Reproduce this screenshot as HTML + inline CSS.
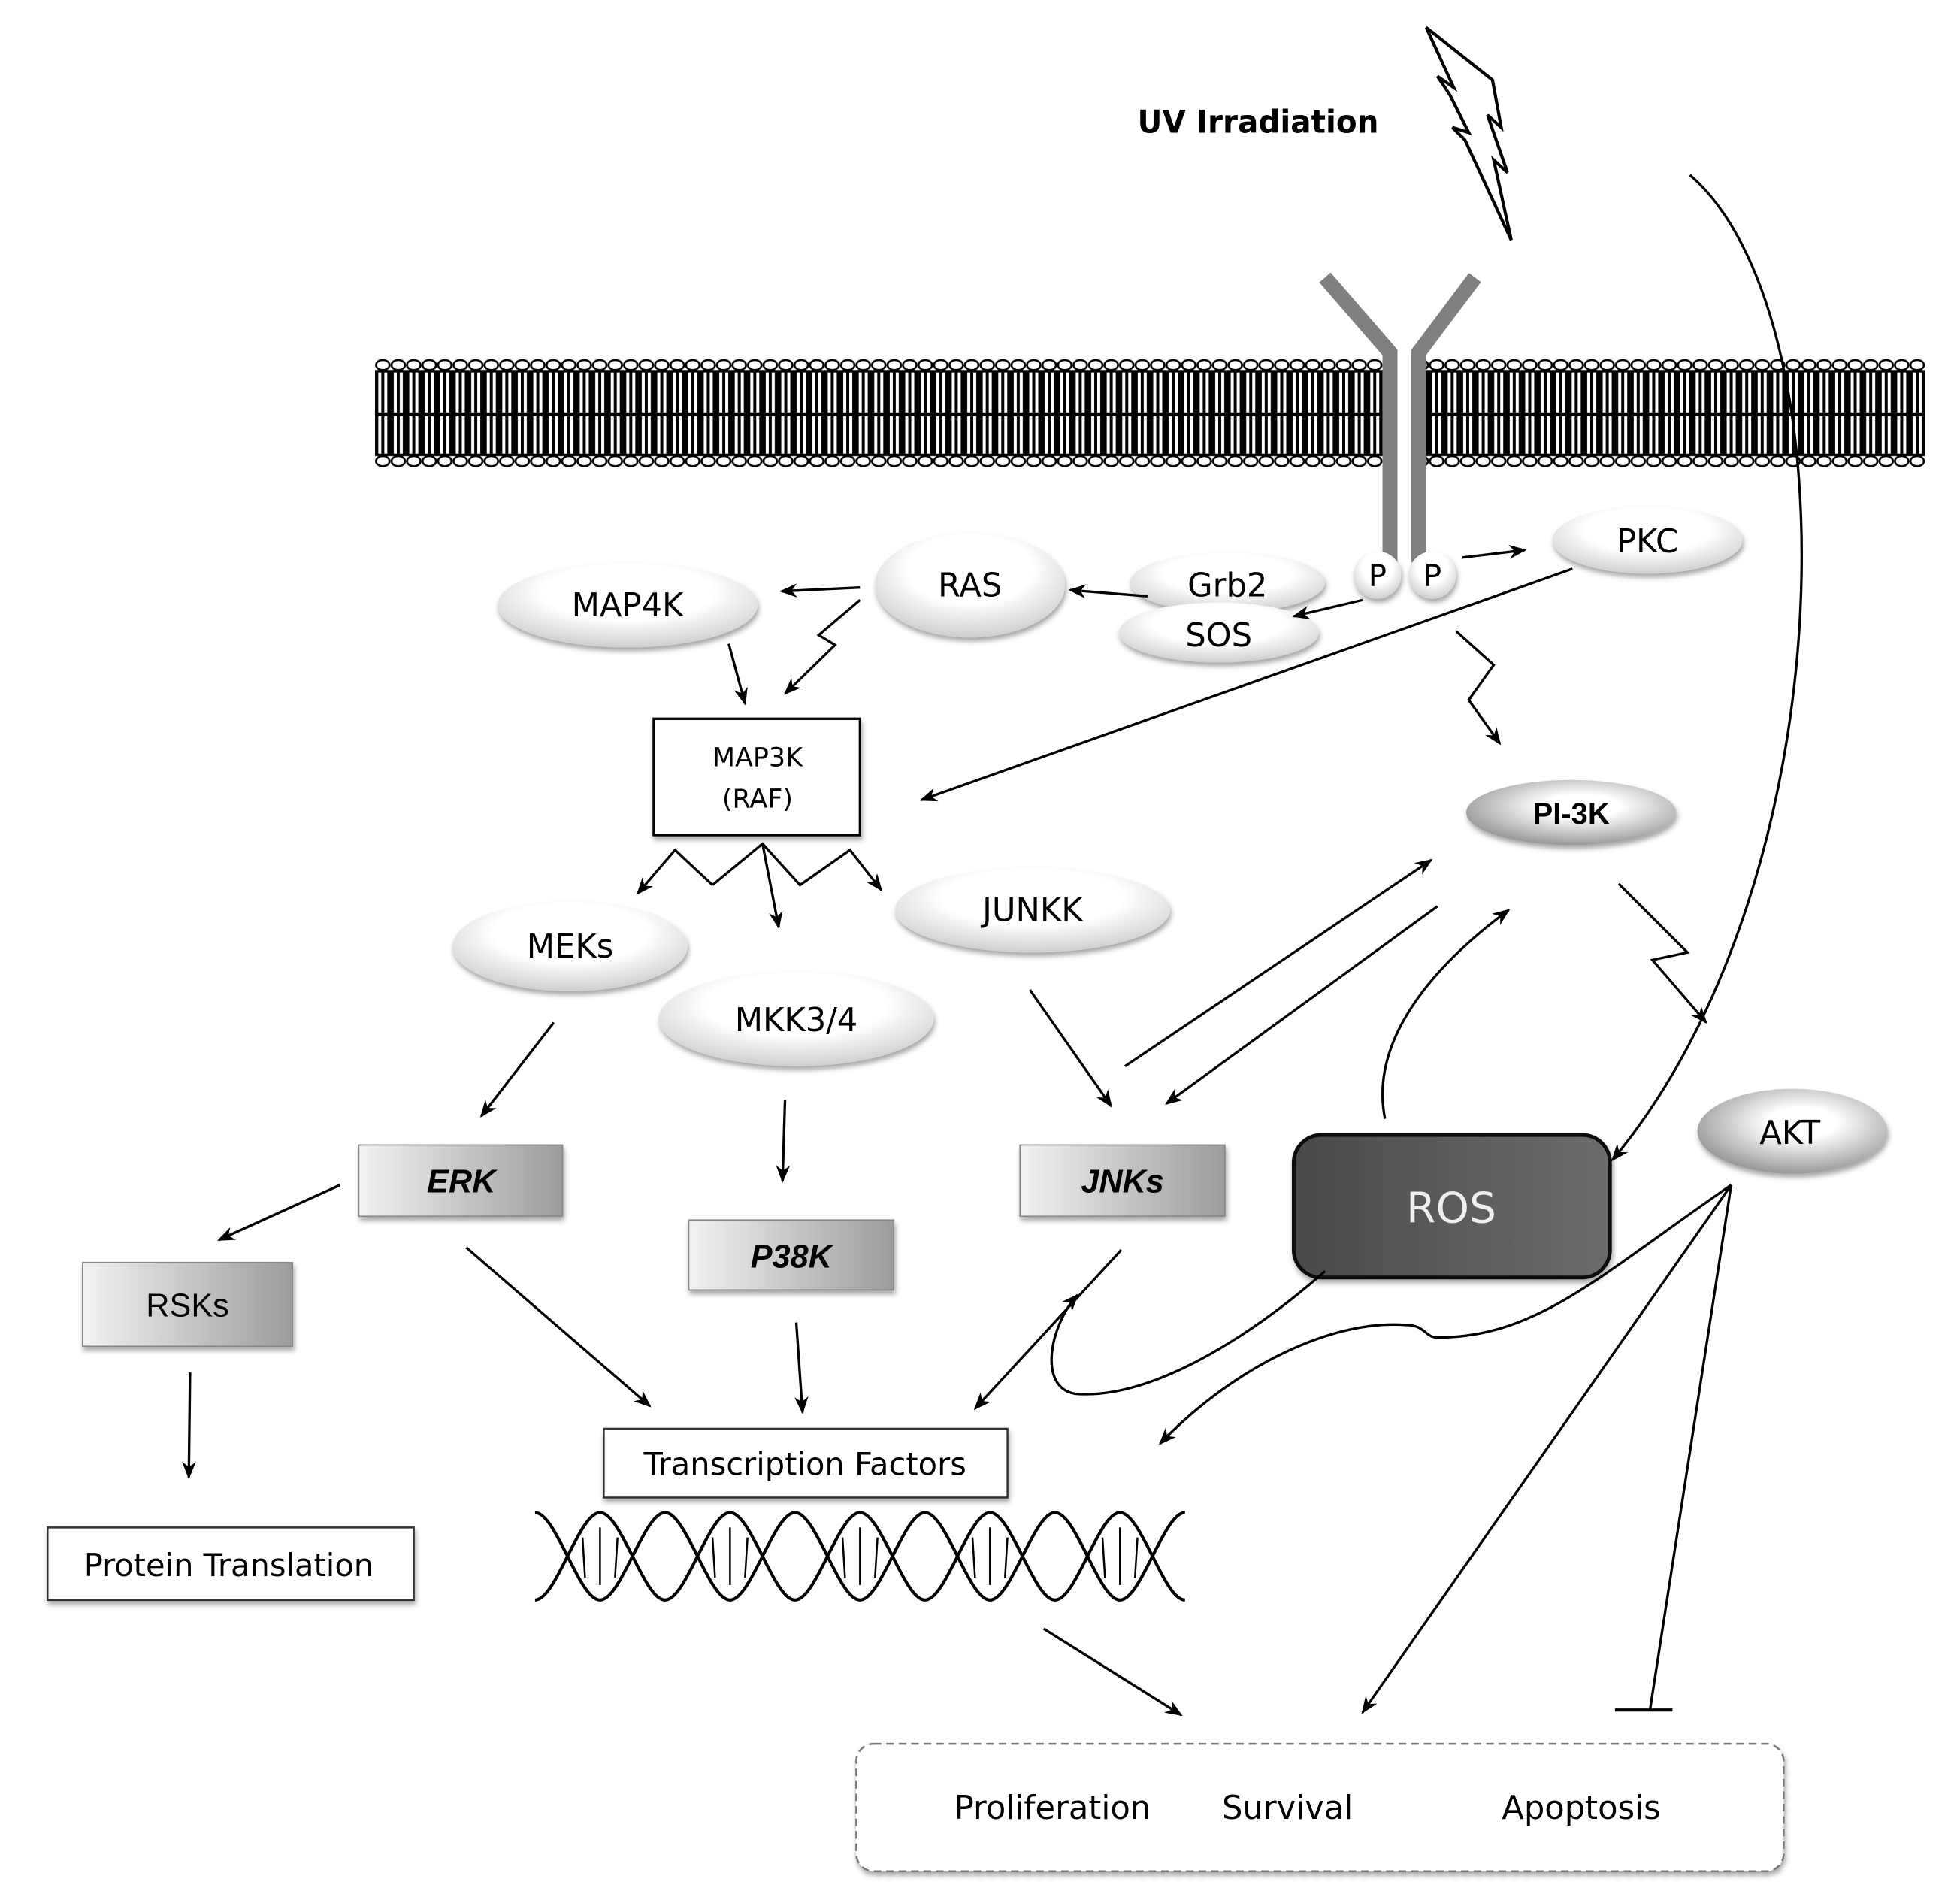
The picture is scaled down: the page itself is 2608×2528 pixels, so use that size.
<!DOCTYPE html>
<html><head><meta charset="utf-8"><style>html,body{margin:0;padding:0;background:#fff}svg{display:block}</style></head>
<body>
<svg width="2608" height="2528" viewBox="0 0 1568 1520" xmlns="http://www.w3.org/2000/svg" font-family="'DejaVu Sans','Liberation Sans',sans-serif">
<defs>
<marker id="a" viewBox="0 0 10 10" refX="9" refY="5" markerWidth="7" markerHeight="7" orient="auto"><path d="M0,1 L10,5 L0,9 L3,5z" fill="#000"/></marker>
<pattern id="mem" x="300" y="287" width="12.4" height="88" patternUnits="userSpaceOnUse">
<ellipse cx="6.2" cy="5" rx="5.4" ry="4" fill="#fff" stroke="#000" stroke-width="1.6"/>
<ellipse cx="6.2" cy="82" rx="5.4" ry="4" fill="#fff" stroke="#000" stroke-width="1.6"/>
<rect x="0" y="9" width="12.4" height="69" fill="#000"/>
<rect x="2.6" y="11" width="2.4" height="32" fill="#fff"/><rect x="7.4" y="11" width="2.4" height="32" fill="#fff"/>
<rect x="2.6" y="46" width="2.4" height="30" fill="#fff"/><rect x="7.4" y="46" width="2.4" height="30" fill="#fff"/>
</pattern>
<radialGradient id="ell" cx="50%" cy="35%" r="65%"><stop offset="0.5" stop-color="#fff"/><stop offset="1" stop-color="#cfcfcf"/></radialGradient>
<radialGradient id="gell" cx="55%" cy="40%" r="60%"><stop offset="0.3" stop-color="#fff"/><stop offset="1" stop-color="#9a9a9a"/></radialGradient>
<linearGradient id="box" x1="0" y1="0" x2="1" y2="0"><stop offset="0" stop-color="#f2f2f2"/><stop offset="1" stop-color="#9c9c9c"/></linearGradient>
<linearGradient id="ros" x1="0" y1="0" x2="1" y2="0"><stop offset="0" stop-color="#4a4a4a"/><stop offset="1" stop-color="#6c6c6c"/></linearGradient>
<filter id="sh" x="-20%" y="-20%" width="140%" height="150%"><feDropShadow dx="1" dy="3" stdDeviation="2" flood-opacity="0.35"/></filter>
</defs>

<text x="910" y="106" font-size="25" font-weight="bold" font-family="'DejaVu Sans',sans-serif" textLength="193" lengthAdjust="spacingAndGlyphs">UV Irradiation</text>
<polygon points="1141,22 1194,64 1201,102 1190,92 1206,138 1195,128 1209,192 1172,112 1162,102 1175,106 1160,76 1150,61 1163,70" fill="#fff" stroke="#000" stroke-width="2.5" stroke-linejoin="miter"/>

<rect x="300" y="287" width="806" height="88" fill="url(#mem)"/>
<rect x="1140" y="287" width="400" height="88" fill="url(#mem)"/>

<g stroke="#808080" stroke-width="12" fill="none">
<polyline points="1060,222 1112,282 1112,450"/>
<polyline points="1180,222 1135,282 1135,450"/>
</g>
<circle cx="1102" cy="460" r="19" fill="url(#ell)" filter="url(#sh)"/>
<circle cx="1146" cy="460" r="19" fill="url(#ell)" filter="url(#sh)"/>
<text x="1102" y="469" font-size="24" text-anchor="middle">P</text>
<text x="1146" y="469" font-size="24" text-anchor="middle">P</text>

<path d="M1352,140 C1480,250 1480,700 1290,928" stroke="#000" stroke-width="2" fill="none" marker-end="url(#a)"/>

<g filter="url(#sh)">
<ellipse cx="1318" cy="432" rx="76" ry="27" fill="url(#ell)"/>
<ellipse cx="982" cy="466" rx="78" ry="24" fill="url(#ell)"/>
<ellipse cx="975" cy="506" rx="80" ry="24" fill="url(#ell)"/>
<ellipse cx="776" cy="468" rx="76" ry="42" fill="url(#ell)"/>
<ellipse cx="502" cy="484" rx="104" ry="34" fill="url(#ell)"/>
<ellipse cx="456" cy="757" rx="94" ry="36" fill="url(#ell)"/>
<ellipse cx="637" cy="815" rx="110" ry="38" fill="url(#ell)"/>
<ellipse cx="826" cy="728" rx="110" ry="34" fill="url(#ell)"/>
<ellipse cx="1257" cy="650" rx="84" ry="26" fill="url(#gell)"/>
<ellipse cx="1434" cy="905" rx="76" ry="34" fill="url(#gell)"/>
</g>
<g font-size="26" text-anchor="middle">
<text x="1318" y="442">PKC</text>
<text x="982" y="477">Grb2</text>
<text x="975" y="517">SOS</text>
<text x="776" y="477">RAS</text>
<text x="502" y="493">MAP4K</text>
<text x="456" y="766">MEKs</text>
<text x="637" y="825">MKK3/4</text>
<text x="826" y="737">JUNKK</text>
<text x="1257" y="659" font-weight="bold" font-size="24" font-family="'Liberation Sans',sans-serif">PI-3K</text>
<text x="1432" y="915">AKT</text>
</g>

<rect x="523" y="575" width="165" height="93" fill="#fff" stroke="#000" stroke-width="2" filter="url(#sh)"/>
<text x="606" y="613" font-size="21" text-anchor="middle">MAP3K</text>
<text x="606" y="646" font-size="21" text-anchor="middle">(RAF)</text>

<g filter="url(#sh)" stroke="#888" stroke-width="1">
<rect x="287" y="916" width="163" height="57" fill="url(#box)"/>
<rect x="551" y="976" width="164" height="56" fill="url(#box)"/>
<rect x="816" y="916" width="164" height="57" fill="url(#box)"/>
<rect x="66" y="1010" width="168" height="67" fill="url(#box)"/>
</g>
<g font-family="'Liberation Sans',sans-serif" font-size="26" text-anchor="middle">
<text x="369" y="954" font-weight="bold" font-style="italic">ERK</text>
<text x="633" y="1014" font-weight="bold" font-style="italic">P38K</text>
<text x="898" y="954" font-weight="bold" font-style="italic">JNKs</text>
<text x="150" y="1053">RSKs</text>
</g>

<rect x="1035" y="908" width="253" height="114" rx="22" fill="url(#ros)" stroke="#111" stroke-width="3" filter="url(#sh)"/>
<text x="1161" y="978" font-size="34" fill="#eee" text-anchor="middle">ROS</text>

<rect x="483" y="1143" width="323" height="55" fill="#fff" stroke="#333" stroke-width="1.5" filter="url(#sh)"/>
<text x="644" y="1180" font-size="25" text-anchor="middle">Transcription Factors</text>
<rect x="38" y="1222" width="293" height="58" fill="#fff" stroke="#333" stroke-width="1.5" filter="url(#sh)"/>
<text x="183" y="1261" font-size="25" text-anchor="middle">Protein Translation</text>

<g stroke="#000" stroke-width="2.5" fill="none">
<path d="M428,1280 C445,1280 463,1210 480,1210 C497,1210 515,1280 532,1280 C549,1280 567,1210 584,1210 C601,1210 619,1280 636,1280 C653,1280 671,1210 688,1210 C705,1210 723,1280 740,1280 C757,1280 775,1210 792,1210 C809,1210 827,1280 844,1280 C861,1280 879,1210 896,1210 C913,1210 931,1280 948,1280"/>
<path d="M428,1210 C445,1210 463,1280 480,1280 C497,1280 515,1210 532,1210 C549,1210 567,1280 584,1280 C601,1280 619,1210 636,1210 C653,1210 671,1280 688,1280 C705,1280 723,1210 740,1210 C757,1210 775,1280 792,1280 C809,1280 827,1210 844,1210 C861,1210 879,1280 896,1280 C913,1280 931,1210 948,1210"/>
</g>
<g stroke="#000" stroke-width="1.5">
<line x1="466" y1="1230" x2="468" y2="1262"/><line x1="480" y1="1222" x2="480" y2="1268"/><line x1="494" y1="1230" x2="492" y2="1262"/>
<line x1="570" y1="1230" x2="572" y2="1262"/><line x1="584" y1="1222" x2="584" y2="1268"/><line x1="598" y1="1230" x2="596" y2="1262"/>
<line x1="674" y1="1230" x2="676" y2="1262"/><line x1="688" y1="1222" x2="688" y2="1268"/><line x1="702" y1="1230" x2="700" y2="1262"/>
<line x1="778" y1="1230" x2="780" y2="1262"/><line x1="792" y1="1222" x2="792" y2="1268"/><line x1="806" y1="1230" x2="804" y2="1262"/>
<line x1="882" y1="1230" x2="884" y2="1262"/><line x1="896" y1="1222" x2="896" y2="1268"/><line x1="910" y1="1230" x2="908" y2="1262"/>
</g>

<rect x="685" y="1395" width="742" height="102" rx="14" fill="#fff" stroke="#777" stroke-width="1.5" stroke-dasharray="6,4" filter="url(#sh)"/>
<g font-size="26" text-anchor="middle">
<text x="842" y="1455">Proliferation</text>
<text x="1030" y="1455">Survival</text>
<text x="1265" y="1455">Apoptosis</text>
</g>

<g stroke="#000" stroke-width="2" fill="none" marker-end="url(#a)">
<line x1="1170" y1="446" x2="1220" y2="440"/>
<line x1="1090" y1="480" x2="1035" y2="493"/>
<line x1="918" y1="477" x2="856" y2="472"/>
<line x1="688" y1="470" x2="625" y2="473"/>
<polyline points="688,480 655,508 668,516 628,555"/>
<line x1="583" y1="515" x2="596" y2="563"/>
<line x1="1258" y1="455" x2="737" y2="640"/>
<polyline points="1165,505 1195,532 1175,560 1200,595"/>
<polyline points="570,708 540,680 510,715"/>
<polyline points="570,708 610,675 640,708 680,680 705,712"/>
<line x1="610" y1="675" x2="623" y2="742"/>
<line x1="443" y1="818" x2="385" y2="893"/>
<line x1="628" y1="880" x2="626" y2="945"/>
<line x1="824" y1="792" x2="889" y2="885"/>
<line x1="900" y1="853" x2="1145" y2="688"/>
<line x1="1150" y1="725" x2="933" y2="883"/>
<path d="M1108,895 C1095,830 1150,770 1207,728"/>
<polyline points="1295,707 1350,762 1322,768 1365,818"/>
<line x1="272" y1="948" x2="175" y2="992"/>
<line x1="152" y1="1098" x2="151" y2="1182"/>
<line x1="373" y1="998" x2="520" y2="1125"/>
<line x1="637" y1="1058" x2="642" y2="1130"/>
<line x1="897" y1="1000" x2="780" y2="1127"/>
<path d="M1060,1017 C1000,1070 920,1120 860,1115 C830,1110 840,1060 862,1036"/>
<path d="M1385,948 C1280,1020 1230,1070 1150,1070 C1140,1070 1140,1060 1125,1060 C1060,1055 980,1100 928,1155"/>
<line x1="1385" y1="948" x2="1090" y2="1370"/>
<line x1="835" y1="1303" x2="945" y2="1372"/>
</g>
<line x1="1385" y1="948" x2="1320" y2="1368" stroke="#000" stroke-width="2"/>
<line x1="1292" y1="1368" x2="1338" y2="1368" stroke="#000" stroke-width="2.5"/>
</svg>
</body></html>
